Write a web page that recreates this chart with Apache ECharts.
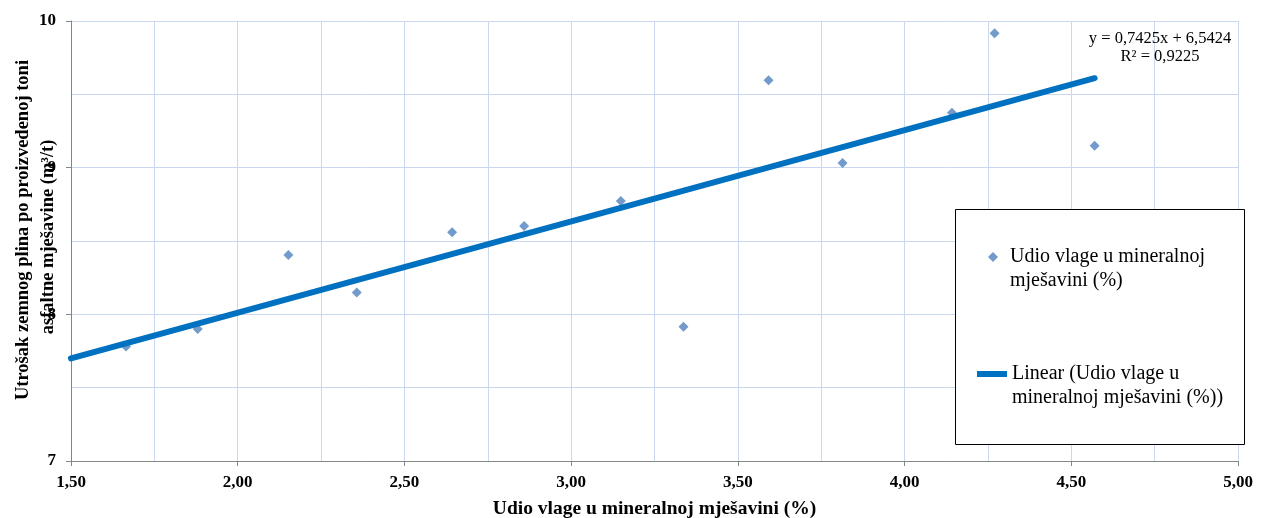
<!DOCTYPE html>
<html>
<head>
<meta charset="utf-8">
<script src="https://cdn.jsdelivr.net/npm/echarts@6/dist/echarts.min.js"></script>
<style>
html,body{margin:0;padding:0;background:#fff;}
#chart{width:1261px;height:518px;}
</style>
</head>
<body>
<div id="chart"></div>
<script>
// Data
const moisture = [1.665, 1.880, 2.152, 2.357, 2.643, 2.859, 3.149, 3.337, 3.592, 3.814, 4.142, 4.270, 4.570];
const gasUse   = [7.781, 7.900, 8.405, 8.149, 8.559, 8.602, 8.773, 7.916, 9.596, 9.032, 9.375, 9.916, 9.150];
// Trend line as drawn in the picture (start and end)
const trendX = [1.50, 4.57];
const trendY = [7.70, 9.61];
// Axis ranges / ticks
const xMin = 1.5, xMax = 5.0, xStep = 0.5;
const yMin = 7, yMax = 10, yStep = 1;

const scatterName = 'Udio vlage u mineralnoj mješavini (%)';
const lineName = 'Linear (Udio vlage u mineralnoj mješavini (%))';
const legendText = {};
legendText[scatterName] = ' \nUdio vlage u mineralnoj\nmješavini (%)';
legendText[lineName] = ' \nLinear (Udio vlage u\nmineralnoj mješavini (%))';

const equationText = 'y = 0,7425x + 6,5424\nR² = 0,9225';
const xTitle = 'Udio vlage u mineralnoj mješavini (%)';
const yTitle = 'Utrošak zemnog plina po proizvedenoj toni\nasfaltne mješavine (m³/t)\u00A0\u00A0\u00A0';

const FONT = '"Liberation Serif", "Times New Roman", serif';
const GRID = '#C9D7EF';
const AXIS = '#868686';

const chart = echarts.init(document.getElementById('chart'), null, {renderer: 'canvas'});

const option = {
  animation: false,
  backgroundColor: '#ffffff',
  grid: {left: 71, right: 23, top: 21, bottom: 57, outerBoundsMode: 'none', containLabel: false},
  xAxis: {
    type: 'value', min: xMin, max: xMax, interval: xStep,
    axisLine: {show: true, onZero: false, lineStyle: {color: AXIS, width: 1}},
    axisTick: {show: true, length: 5, lineStyle: {color: AXIS}},
    minorTick: {show: false, splitNumber: 2},
    splitLine: {show: true, lineStyle: {color: GRID, width: 1}},
    minorSplitLine: {show: true, lineStyle: {color: GRID, width: 1}},
    axisLabel: {
      margin: 13, color: '#000', fontFamily: FONT, fontWeight: 'bold', fontSize: 17,
      formatter: v => v.toFixed(2).replace('.', ',')
    },
    name: xTitle, nameLocation: 'middle', nameGap: 38,
    nameTextStyle: {color: '#000', fontFamily: FONT, fontWeight: 'bold', fontSize: 19.5}
  },
  yAxis: {
    type: 'value', min: yMin, max: yMax, interval: yStep,
    axisLine: {show: true, onZero: false, lineStyle: {color: AXIS, width: 1}},
    axisTick: {show: true, length: 5, lineStyle: {color: AXIS}},
    minorTick: {show: false, splitNumber: 2},
    splitLine: {show: true, lineStyle: {color: GRID, width: 1}},
    minorSplitLine: {show: true, lineStyle: {color: GRID, width: 1}},
    axisLabel: {
      margin: 15, color: '#000', fontFamily: FONT, fontWeight: 'bold', fontSize: 17,
      formatter: v => String(v)
    },
    name: yTitle, nameLocation: 'middle', nameRotate: 90, nameGap: 10, nameMoveOverlap: false,
    nameTextStyle: {color: '#000', fontFamily: FONT, fontWeight: 'bold', fontSize: 18.5, lineHeight: 25, padding: [0, 0, 0, 22]}
  },
  legend: [
    {
      data: [{name: scatterName, icon: 'diamond'}],
      orient: 'vertical', left: 988, top: 221, padding: 0,
      itemWidth: 10, itemHeight: 10, selectedMode: false, z: 10,
      formatter: n => legendText[n],
      textStyle: {color: '#000', fontFamily: FONT, fontSize: 20, lineHeight: 24, padding: [0, 0, 0, 7]}
    },
    {
      data: [{name: lineName, icon: 'rect'}],
      orient: 'vertical', left: 977, top: 338, padding: 0,
      itemWidth: 30, itemHeight: 6, selectedMode: false, z: 10,
      formatter: n => legendText[n],
      textStyle: {color: '#000', fontFamily: FONT, fontSize: 20, lineHeight: 24}
    }
  ],
  graphic: [
    {
      type: 'rect', z: 5,
      shape: {x: 955.5, y: 209.5, width: 289, height: 235},
      style: {fill: '#ffffff', stroke: '#000000', lineWidth: 1}
    },
    {
      type: 'text', z: 5, x: 1160, y: 30,
      style: {text: equationText, fill: '#000', font: '16.5px ' + FONT, lineHeight: 18, textAlign: 'center', textVerticalAlign: 'top'}
    }
  ],
  series: [
    {
      name: scatterName, type: 'scatter',
      symbol: 'diamond', symbolSize: 10,
      itemStyle: {color: '#4F81BD'},
      data: moisture.map((x, i) => [x, gasUse[i]])
    },
    {
      name: lineName, type: 'line',
      symbol: 'none', showSymbol: false,
      lineStyle: {color: '#0070C0', width: 6, cap: 'round'},
      itemStyle: {color: '#0070C0'},
      data: trendX.map((x, i) => [x, trendY[i]])
    }
  ]
};
chart.setOption(option);
</script>
</body>
</html>
